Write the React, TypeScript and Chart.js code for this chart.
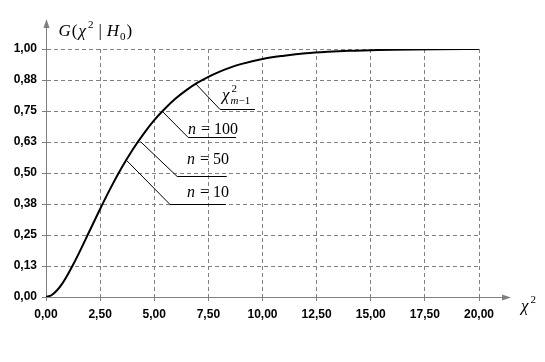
import React, { useEffect, useRef } from "react";
import { Chart, registerables } from "chart.js";

Chart.register(...registerables);

// Curve values
const chiValues = [0, 0.25, 0.5, 0.75, 1, 1.25, 1.5, 2, 2.5, 3, 3.5, 4, 4.5, 5, 5.5, 6, 6.5, 7, 7.5, 8, 8.5, 9, 10, 11, 12, 13, 14, 15, 16, 18, 20];
const gValues = [0, 0.007, 0.026, 0.054, 0.09, 0.13, 0.173, 0.264, 0.355, 0.442, 0.522, 0.594, 0.657, 0.713, 0.76, 0.801, 0.835, 0.864, 0.888, 0.908, 0.925, 0.939, 0.96, 0.973, 0.983, 0.989, 0.993, 0.995, 0.997, 0.999, 1.0];

const xTickValues = [0, 2.5, 5, 7.5, 10, 12.5, 15, 17.5, 20];
const xTickLabels = ["0,00", "2,50", "5,00", "7,50", "10,00", "12,50", "15,00", "17,50", "20,00"];
const yTickValues = [0, 0.125, 0.25, 0.375, 0.5, 0.625, 0.75, 0.875, 1];
const yTickLabels = ["0,00", "0,13", "0,25", "0,38", "0,50", "0,63", "0,75", "0,88", "1,00"];

// Leader-line annotations (data coordinates)
const annotationLabels = ["chi", "n = 100", "n = 50", "n = 10"];
const annotationStartX = [6.88, 5.4, 4.37, 3.73];
const annotationStartY = [0.863, 0.746, 0.626, 0.55];
const annotationElbowX = [8.04, 6.57, 6.06, 5.73];
const annotationElbowY = [0.757, 0.644, 0.488, 0.375];
const annotationEndX = [9.65, 8.78, 8.35, 8.31];
const annotationTextX = [8.13, 6.56, 6.51, 6.51];
const annotationTextY = [0.793, 0.659, 0.538, 0.405];

const SERIF = "'Liberation Serif', 'Times New Roman', serif";

type Part = { t: string; italic?: boolean; size?: number; dy?: number; dx?: number };

function drawRich(ctx: CanvasRenderingContext2D, x: number, y: number, parts: Part[], base = 16) {
  let cx = x;
  for (const p of parts) {
    ctx.font = `${p.italic ? "italic " : ""}${p.size || base}px ${SERIF}`;
    cx += p.dx || 0;
    ctx.fillText(p.t, cx, y + (p.dy || 0));
    cx += ctx.measureText(p.t).width;
  }
  return cx;
}

const decorPlugin = {
  id: "decor",
  afterDraw(chart: any) {
    const { ctx, chartArea, scales } = chart;
    const xs = scales.x;
    const ys = scales.y;
    const left = Math.round(chartArea.left) + 0.5;
    const bottom = Math.round(chartArea.bottom) + 0.5;
    ctx.save();
    // axis extensions with arrows
    ctx.strokeStyle = "#808080";
    ctx.fillStyle = "#808080";
    ctx.lineWidth = 1;
    ctx.beginPath();
    ctx.moveTo(left, chartArea.top);
    ctx.lineTo(left, chartArea.top - 24);
    ctx.moveTo(chartArea.right, bottom);
    ctx.lineTo(chartArea.right + 26, bottom);
    ctx.stroke();
    ctx.beginPath();
    ctx.moveTo(left, chartArea.top - 30);
    ctx.lineTo(left - 3, chartArea.top - 21);
    ctx.lineTo(left + 3, chartArea.top - 21);
    ctx.closePath();
    ctx.fill();
    ctx.beginPath();
    ctx.moveTo(chartArea.right + 32, bottom);
    ctx.lineTo(chartArea.right + 23, bottom - 3);
    ctx.lineTo(chartArea.right + 23, bottom + 3);
    ctx.closePath();
    ctx.fill();

    // axis titles
    ctx.fillStyle = "#000";
    ctx.textBaseline = "alphabetic";
    ctx.textAlign = "left";
    drawRich(ctx, left + 12, chartArea.top - 13, [
      { t: "G", italic: true },
      { t: "(", dx: 1 },
      { t: "χ", italic: true, dx: 1 },
      { t: "2", size: 11, dy: -8, dx: 2 },
      { t: "|", dx: 5 },
      { t: "H", italic: true, dx: 5 },
      { t: "0", size: 11, dy: 4, dx: 1 },
      { t: ")", dx: 1 },
    ], 17);
    drawRich(ctx, chartArea.right + 42, bottom + 13, [
      { t: "χ", italic: true },
      { t: "2", size: 11, dy: -8, dx: 2 },
    ], 17);

    // leader annotations
    ctx.strokeStyle = "#000";
    ctx.lineWidth = 1;
    for (let i = 0; i < annotationLabels.length; i++) {
      const sx = xs.getPixelForValue(annotationStartX[i]);
      const sy = ys.getPixelForValue(annotationStartY[i]);
      const ex = xs.getPixelForValue(annotationElbowX[i]);
      const ey = Math.round(ys.getPixelForValue(annotationElbowY[i])) + 0.5;
      const fx = xs.getPixelForValue(annotationEndX[i]);
      ctx.beginPath();
      ctx.moveTo(sx, sy);
      ctx.lineTo(ex, ey);
      ctx.lineTo(fx, ey);
      ctx.stroke();
      const tx = xs.getPixelForValue(annotationTextX[i]);
      const ty = ys.getPixelForValue(annotationTextY[i]);
      const lab = annotationLabels[i];
      if (lab === "chi") {
        const w = drawRich(ctx, tx, ty, [{ t: "χ", italic: true }], 17);
        drawRich(ctx, w + 2, ty - 8, [{ t: "2", size: 11 }]);
        drawRich(ctx, w + 1, ty + 4, [{ t: "m", italic: true, size: 11 }, { t: "−1", size: 11 }]);
      } else {
        drawRich(ctx, tx, ty, [{ t: "n", italic: true }, { t: " = ", dx: 1 }, { t: lab.slice(4) }], 16);
      }
    }
    ctx.restore();
  },
};

export default function App() {
  const ref = useRef<HTMLCanvasElement>(null);
  useEffect(() => {
    if (!ref.current) return;
    const tickFont = { family: "'Liberation Sans', Arial, sans-serif", size: 12, weight: "bold" as const };
    const chart = new Chart(ref.current, {
      type: "line",
      data: {
        datasets: [
          {
            data: chiValues.map((x, i) => ({ x, y: gValues[i] })),
            borderColor: "#000",
            borderWidth: 2,
            pointRadius: 0,
            cubicInterpolationMode: "monotone",
            fill: false,
          },
        ],
      },
      options: {
        responsive: false,
        animation: false,
        events: [],
        layout: { padding: { top: 49, right: 66, left: 0, bottom: 0 } },
        plugins: { legend: { display: false }, tooltip: { enabled: false }, title: { display: false } },
        scales: {
          x: {
            type: "linear",
            min: 0,
            max: 20,
            afterBuildTicks: (s: any) => {
              s.ticks = xTickValues.map((v) => ({ value: v }));
            },
            afterFit: (s: any) => {
              s.height = 65;
            },
            ticks: {
              callback: (_v: any, i: number) => xTickLabels[i],
              font: tickFont,
              color: "#000",
              padding: 6,
              maxRotation: 0,
              autoSkip: false,
            },
            grid: { color: "#808080", lineWidth: 1, drawTicks: true, tickLength: 4, tickBorderDash: [], tickColor: "#808080" },
            border: { color: "#808080", width: 1, dash: [4, 3] },
          },
          y: {
            type: "linear",
            min: 0,
            max: 1,
            afterBuildTicks: (s: any) => {
              s.ticks = yTickValues.map((v) => ({ value: v }));
            },
            afterFit: (s: any) => {
              s.width = 46;
            },
            ticks: {
              callback: (_v: any, i: number) => yTickLabels[i],
              font: tickFont,
              color: "#000",
              padding: 5,
              autoSkip: false,
            },
            grid: { color: "#808080", lineWidth: 1, drawTicks: true, tickLength: 4, tickBorderDash: [], tickColor: "#808080" },
            border: { color: "#808080", width: 1, dash: [4, 3] },
          },
        },
      },
      plugins: [decorPlugin],
    } as any);
    return () => chart.destroy();
  }, []);
  return (
    <div style={{ position: "absolute", left: 0, top: 0, width: 545, height: 362, background: "#fff" }}>
      <canvas ref={ref} width={545} height={362} style={{ display: "block" }} />
    </div>
  );
}
